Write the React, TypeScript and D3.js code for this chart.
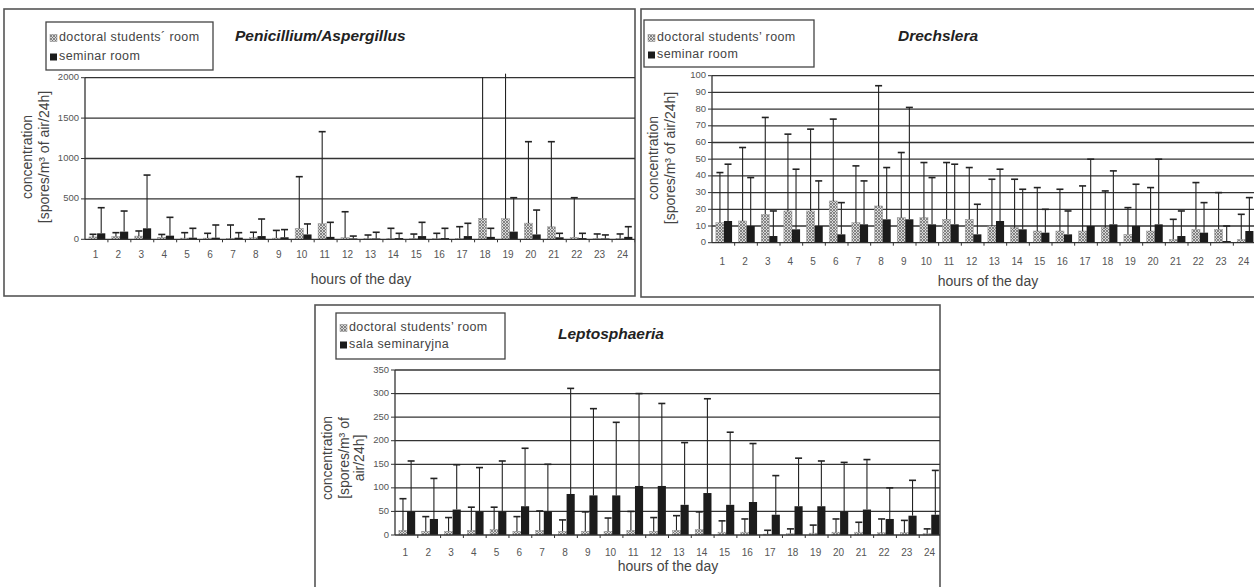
import React from 'react';
import * as d3 from 'd3';

const FONT = '"Liberation Sans", Arial, Helvetica, sans-serif';

const hours = ['1', '2', '3', '4', '5', '6', '7', '8', '9', '10', '11', '12',
  '13', '14', '15', '16', '17', '18', '19', '20', '21', '22', '23', '24'];

// Penicillium/Aspergillus (mean and mean+SD)
const penDocMean = [30, 35, 40, 25, 15, 15, 10, 20, 15, 135, 195, 20, 10, 10, 10, 10, 10, 260, 255, 200, 155, 25, 10, 10];
const penDocUpper = [62, 82, 103, 60, 82, 74, 177, 87, 110, 775, 1332, 341, 53, 136, 65, 74, 156, 2010, 2050, 1208, 1208, 515, 66, 66];
const penSemMean = [74, 95, 136, 45, 20, 20, 20, 40, 25, 60, 30, 10, 10, 15, 40, 15, 40, 30, 95, 60, 25, 15, 10, 30];
const penSemUpper = [391, 350, 795, 272, 136, 177, 82, 251, 120, 190, 210, 40, 87, 74, 210, 136, 198, 136, 515, 362, 74, 74, 54, 156];
const penTicks = [0, 500, 1000, 1500, 2000];

// Drechslera
const dreDocMean = [12, 13, 17, 19, 19, 25, 12, 22, 15, 15, 14, 14, 10, 9, 7, 7, 7, 9, 5, 7, 2, 8, 8, 2];
const dreDocUpper = [42, 57, 75, 65, 68, 74, 46, 94, 54, 48, 48, 45, 38, 38, 33, 32, 34, 31, 21, 33, 14, 36, 30, 17];
const dreSemMean = [13, 10, 4, 8, 10, 5, 11, 14, 14, 11, 11, 5, 13, 8, 6, 5, 10, 11, 10, 11, 4, 6, 1, 7];
const dreSemUpper = [47, 39, 19, 44, 37, 24, 37, 45, 81, 39, 47, 23, 44, 32, 20, 19, 50, 43, 35, 50, 19, 24, 10, 27];
const dreTicks = [0, 10, 20, 30, 40, 50, 60, 70, 80, 90, 100];

// Leptosphaeria
const lepDocMean = [10, 8, 8, 10, 12, 8, 10, 8, 8, 8, 10, 8, 10, 12, 6, 6, 2, 3, 4, 6, 6, 5, 5, 3];
const lepDocUpper = [77, 39, 37, 59, 59, 39, 51, 32, 49, 36, 50, 37, 41, 49, 30, 34, 10, 13, 21, 34, 27, 34, 31, 13];
const lepSemMean = [50, 34, 54, 50, 50, 61, 50, 87, 84, 84, 104, 104, 64, 89, 64, 70, 43, 61, 61, 50, 54, 34, 41, 43];
const lepSemUpper = [157, 120, 149, 143, 157, 184, 150, 311, 268, 239, 300, 279, 196, 289, 218, 194, 126, 163, 157, 154, 160, 100, 116, 137];
const lepTicks = [0, 50, 100, 150, 200, 250, 300, 350];

interface Box { x: number; y: number; w: number; h: number }

interface PanelProps {
  id: string;
  frame: Box;
  plot: { left: number; right: number; top: number; bottom: number };
  ticks: number[];
  docMean: number[];
  docUpper: number[];
  semMean: number[];
  semUpper: number[];
  title: string;
  titleX: number;
  titleY: number;
  legend: Box;
  legendLabels: string[];
  legendRows: number[];
  yTitle: string[];
  yTitleX: number[];
  yTitleCy: number;
  xLabelY: number;
  xTitleX: number;
  xTitleY: number;
}

const Panel: React.FC<PanelProps> = (p) => {
  const yMax = p.ticks[p.ticks.length - 1];
  const x = d3.scaleBand<string>().domain(hours).range([p.plot.left, p.plot.right]);
  const bw = x.bandwidth();
  const sub = d3.scaleBand<string>().domain(['doc', 'sem']).range([0, bw])
    .paddingInner(0).paddingOuter(0.4).align(0.6);
  const y = d3.scaleLinear().domain([0, yMax]).range([p.plot.bottom, p.plot.top]);
  const clipId = `clip-${p.id}`;
  const capW = 7;
  const series = [
    { key: 'doc', mean: p.docMean, upper: p.docUpper, fill: 'url(#hatch)' },
    { key: 'sem', mean: p.semMean, upper: p.semUpper, fill: '#1c1c1c' },
  ];
  const f = p.frame;
  const lg = p.legend;

  return (
    <g>
      <defs>
        <clipPath id={clipId}>
          <rect x={f.x} y={f.y} width={f.w} height={f.h} />
        </clipPath>
      </defs>
      <rect x={f.x} y={f.y} width={f.w} height={f.h} fill="#fff" stroke="#555" strokeWidth={1.6} />

      <g clipPath={`url(#${clipId})`}>
        {/* grid */}
        {p.ticks.filter(t => t > 0).map(t => (
          <line key={t} x1={p.plot.left} x2={p.plot.right} y1={y(t)} y2={y(t)} stroke="#333" strokeWidth={1.3} />
        ))}

        {/* bars */}
        {series.map(s => hours.map((h, i) => (
          <rect key={s.key + h}
            x={(x(h) ?? 0) + (sub(s.key) ?? 0)}
            y={y(s.mean[i])}
            width={sub.bandwidth()}
            height={y(0) - y(s.mean[i])}
            fill={s.fill}
            stroke={s.key === 'doc' ? '#999' : 'none'}
            strokeWidth={0.5}
          />
        )))}

        {/* error bars */}
        {series.map(s => hours.map((h, i) => {
          const cx = (x(h) ?? 0) + (sub(s.key) ?? 0) + sub.bandwidth() / 2;
          const top = y(s.upper[i]);
          return (
            <g key={'e' + s.key + h} stroke="#222" strokeWidth={1.1}>
              <line x1={cx} x2={cx} y1={y(s.mean[i])} y2={top} />
              {s.upper[i] <= yMax && (
                <line x1={cx - capW / 2} x2={cx + capW / 2} y1={top} y2={top} strokeWidth={1.6} />
              )}
            </g>
          );
        }))}

        {/* axes */}
        <line x1={p.plot.left} x2={p.plot.left} y1={p.plot.bottom} y2={p.plot.top} stroke="#333" strokeWidth={1.3} />
        <line x1={p.plot.left} x2={p.plot.right} y1={p.plot.bottom} y2={p.plot.bottom} stroke="#333" strokeWidth={1.3} />
        {p.ticks.map(t => (
          <line key={'yt' + t} x1={p.plot.left - 4} x2={p.plot.left} y1={y(t)} y2={y(t)} stroke="#333" strokeWidth={1} />
        ))}
        {hours.map(h => (
          <line key={'xt' + h} x1={(x(h) ?? 0) + bw} x2={(x(h) ?? 0) + bw}
            y1={p.plot.bottom} y2={p.plot.bottom + 3} stroke="#333" strokeWidth={1} />
        ))}
        {hours.map(h => (
          <text key={'xl' + h} x={(x(h) ?? 0) + bw / 2 - 1} y={p.xLabelY} textAnchor="middle"
            dominantBaseline="middle" fontSize={10} fill="#555">{h}</text>
        ))}
      </g>

      {p.ticks.map(t => (
        <text key={'yl' + t} x={p.plot.left - 6} y={y(t)} textAnchor="end" dominantBaseline="middle"
          fontSize={9.5} fill="#555">{t}</text>
      ))}

      {/* y title */}
      {p.yTitle.map((line, i) => (
        <text key={'yT' + i} transform={`translate(${p.yTitleX[i]},${p.yTitleCy}) rotate(-90)`}
          textAnchor="middle" dominantBaseline="middle" fontSize={14} fill="#444">{line}</text>
      ))}

      {/* x title */}
      <text x={p.xTitleX} y={p.xTitleY} textAnchor="middle" dominantBaseline="middle"
        fontSize={14} fill="#444">hours of the day</text>

      {/* title */}
      <text x={p.titleX} y={p.titleY} fontSize={15.5} fontWeight="bold" fontStyle="italic" fill="#222">{p.title}</text>

      {/* legend */}
      <rect x={lg.x} y={lg.y} width={lg.w} height={lg.h} fill="#fff" stroke="#444" strokeWidth={1.3} />
      {p.legendLabels.map((lab, i) => (
        <g key={'lg' + i}>
          <rect x={lg.x + 4} y={p.legendRows[i] - 3.5} width={7} height={7}
            fill={i === 0 ? 'url(#hatch)' : '#1c1c1c'} stroke={i === 0 ? '#888' : 'none'} strokeWidth={0.5} />
          <text x={lg.x + 13} y={p.legendRows[i]} dominantBaseline="middle" fontSize={12.5}
            letterSpacing={0.4} fill="#444">{lab}</text>
        </g>
      ))}
    </g>
  );
};

const App: React.FC = () => (
  <svg width={1254} height={587} style={{ position: 'absolute', left: 0, top: 0, background: '#fff' }}
    fontFamily={FONT}>
    <defs>
      <pattern id="hatch" width={3} height={3} patternUnits="userSpaceOnUse">
        <rect width={3} height={3} fill="#d8d8d8" />
        <path d="M0,0 L3,3 M3,0 L0,3" stroke="#6e6e6e" strokeWidth={0.8} />
      </pattern>
    </defs>
    <rect width={1254} height={587} fill="#fff" />

    <Panel id="pen"
      frame={{ x: 4, y: 9, w: 631, h: 287 }}
      plot={{ left: 85, right: 635, top: 77.7, bottom: 239.3 }}
      ticks={penTicks}
      docMean={penDocMean} docUpper={penDocUpper} semMean={penSemMean} semUpper={penSemUpper}
      title="Penicillium/Aspergillus" titleX={235} titleY={41}
      legend={{ x: 46, y: 22, w: 167, h: 48 }}
      legendLabels={['doctoral students´ room', 'seminar room']}
      legendRows={[38, 57]}
      yTitle={['concentration', '[spores/m³ of air/24h]']} yTitleX={[28, 45]} yTitleCy={157}
      xLabelY={255} xTitleX={361} xTitleY={280}
    />

    <Panel id="dre"
      frame={{ x: 641, y: 9, w: 630, h: 288 }}
      plot={{ left: 712, right: 1256, top: 75.7, bottom: 242.7 }}
      ticks={dreTicks}
      docMean={dreDocMean} docUpper={dreDocUpper} semMean={dreSemMean} semUpper={dreSemUpper}
      title="Drechslera" titleX={898} titleY={41}
      legend={{ x: 644, y: 20, w: 170, h: 47 }}
      legendLabels={['doctoral students’ room', 'seminar room']}
      legendRows={[38, 55]}
      yTitle={['concentration', '[spores/m³ of air/24h]']} yTitleX={[654, 671]} yTitleCy={158}
      xLabelY={262} xTitleX={988} xTitleY={282}
    />

    <Panel id="lep"
      frame={{ x: 315, y: 305, w: 625, h: 290 }}
      plot={{ left: 395, right: 942, top: 370, bottom: 535 }}
      ticks={lepTicks}
      docMean={lepDocMean} docUpper={lepDocUpper} semMean={lepSemMean} semUpper={lepSemUpper}
      title="Leptosphaeria" titleX={558} titleY={339}
      legend={{ x: 336, y: 313, w: 169, h: 46 }}
      legendLabels={['doctoral students’ room', 'sala seminaryjna']}
      legendRows={[328, 345]}
      yTitle={['concentration', '[spores/m³ of', 'air/24h]']} yTitleX={[328, 345, 360]} yTitleCy={458}
      xLabelY={553} xTitleX={668} xTitleY={567}
    />
  </svg>
);

export default App;
